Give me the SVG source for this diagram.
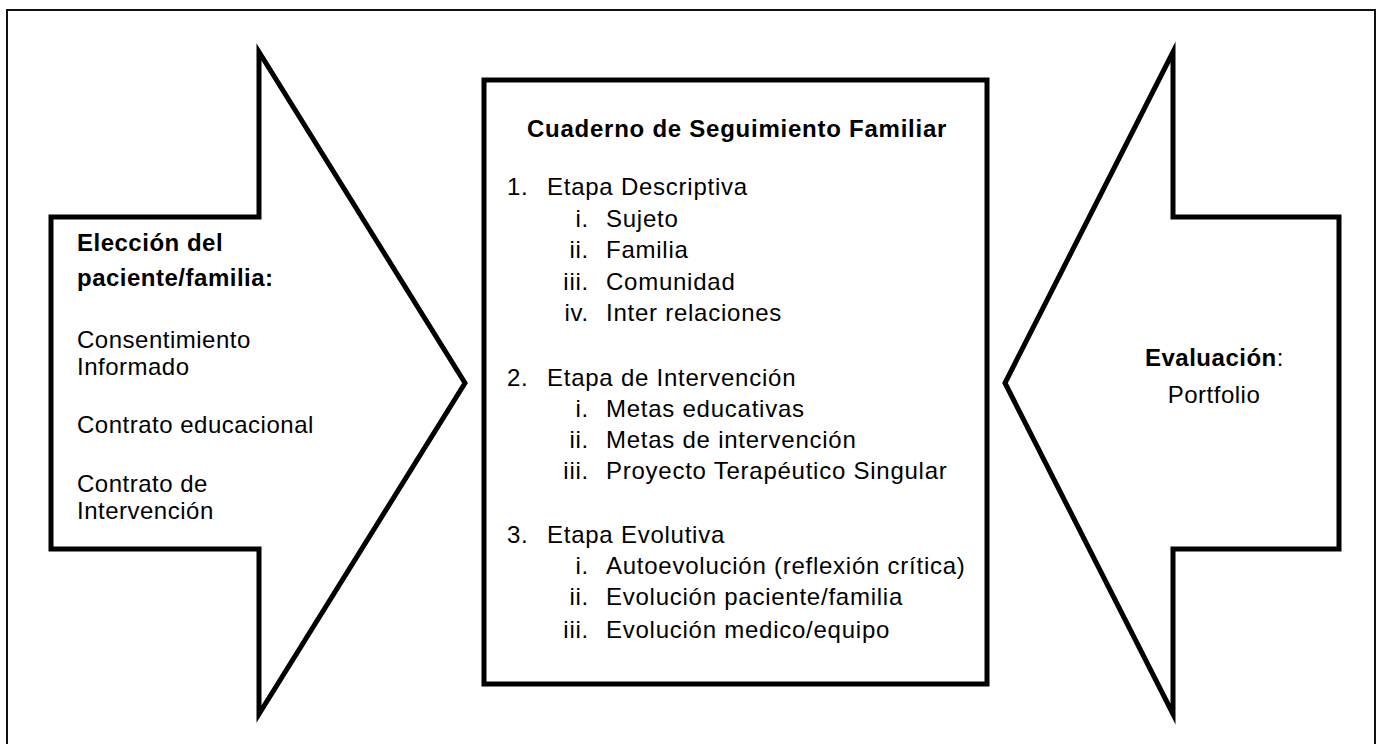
<svg xmlns="http://www.w3.org/2000/svg" width="1377" height="744" viewBox="0 0 1377 744">
<style>
.shape{fill:#fff;stroke:#000;stroke-width:5;stroke-linejoin:miter;stroke-miterlimit:10}
text{font-family:"Liberation Sans",Arial,sans-serif;font-size:24px;fill:#000;letter-spacing:0.5px}
#center-box text{letter-spacing:0.75px}
.b{font-weight:bold}
.n{text-anchor:end}
.c{text-anchor:middle}
</style>
<rect x="0" y="0" width="1377" height="744" fill="#fff"/>
<rect x="7" y="10" width="1368" height="740" fill="none" stroke="#111" stroke-width="2"/>
<g id="connectors"></g>
<g id="left-arrow">
<polygon class="shape" points="51,217 259,217 259,52 465,383 259,714 259,549 51,549"/>
<text class="b" x="77" y="251">Elección del</text>
<text class="b" x="77" y="286">paciente/familia:</text>
<text x="77" y="348">Consentimiento</text>
<text x="77" y="375">Informado</text>
<text x="77" y="433">Contrato educacional</text>
<text x="77" y="492">Contrato de</text>
<text x="77" y="519">Intervención</text>
</g>
<g id="center-box">
<rect class="shape" x="484" y="80" width="503" height="604"/>
<text class="b" x="527" y="137">Cuaderno de Seguimiento Familiar</text>
<text x="507" y="195">1.</text><text x="547" y="195">Etapa Descriptiva</text>
<text class="n" x="589" y="227">i.</text><text x="606" y="227">Sujeto</text>
<text class="n" x="589" y="258">ii.</text><text x="606" y="258">Familia</text>
<text class="n" x="589" y="290">iii.</text><text x="606" y="290">Comunidad</text>
<text class="n" x="589" y="321">iv.</text><text x="606" y="321">Inter relaciones</text>
<text x="507" y="386">2.</text><text x="547" y="386">Etapa de Intervención</text>
<text class="n" x="589" y="417">i.</text><text x="606" y="417">Metas educativas</text>
<text class="n" x="589" y="448">ii.</text><text x="606" y="448">Metas de intervención</text>
<text class="n" x="589" y="479">iii.</text><text x="606" y="479">Proyecto Terapéutico Singular</text>
<text x="507" y="543">3.</text><text x="547" y="543">Etapa Evolutiva</text>
<text class="n" x="589" y="574">i.</text><text x="606" y="574">Autoevolución (reflexión crítica)</text>
<text class="n" x="589" y="605">ii.</text><text x="606" y="605">Evolución paciente/familia</text>
<text class="n" x="589" y="638">iii.</text><text x="606" y="638">Evolución medico/equipo</text>
</g>
<g id="right-arrow">
<polygon class="shape" points="1339,217 1173,217 1173,52 1005,383 1173,714 1173,549 1339,549"/>
<text x="1145" y="366"><tspan class="b">Evaluación</tspan>:</text>
<text class="c" x="1214" y="403">Portfolio</text>
</g>
</svg>
